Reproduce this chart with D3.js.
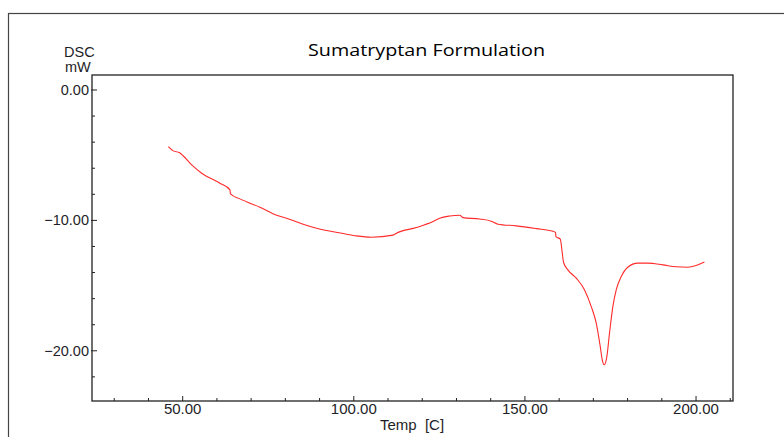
<!DOCTYPE html>
<html><head><meta charset="utf-8">
<script src="https://cdn.jsdelivr.net/npm/d3@7"></script>
<style>html,body{margin:0;padding:0;background:#fff;}svg{display:block;}</style>
</head><body>
<script>
const title = "Sumatryptan Formulation";
const yLabelTop = "DSC";
const yLabelUnit = "mW";
const xLabel = "Temp  [C]";
const xMajorTicks = [50, 100, 150, 200];
const xMinorTicks = [30, 40, 60, 70, 80, 90, 110, 120, 130, 140, 160, 170, 180, 190, 210];
const yMajorTicks = [0, -10, -20];
const yMinorTicks = [-2, -4, -6, -8, -12, -14, -16, -18, -22];
const temps = [45.8, 47.26, 49.0, 50.18, 52.63, 55.55, 60.89, 63.81, 63.95, 66.72, 72.56, 77.44, 80.36, 85.2, 89.11, 96.88, 100.79, 105.17, 111.47, 112.46, 118.3, 123.15, 125.1, 128.02, 130.94, 131.9, 136.78, 140.19, 142.12, 147.49, 153.33, 158.17, 158.96, 159.05, 160.33, 160.92, 161.3, 162.55, 165.0, 167.43, 169.38, 170.84, 172.01, 172.59, 173.18, 173.94, 174.72, 175.69, 176.68, 178.14, 180.07, 182.98, 185.9, 190.28, 194.19, 197.58, 200.03, 202.45];
const dsc = [-4.34, -4.67, -4.8, -5.06, -5.75, -6.38, -7.15, -7.66, -7.97, -8.35, -8.99, -9.6, -9.83, -10.29, -10.6, -11.01, -11.19, -11.29, -11.13, -10.98, -10.55, -10.09, -9.83, -9.66, -9.6, -9.79, -9.89, -10.06, -10.29, -10.42, -10.63, -10.83, -10.94, -11.24, -11.44, -12.51, -13.23, -13.79, -14.43, -15.33, -16.61, -17.88, -19.67, -20.69, -21.07, -20.44, -18.64, -16.61, -15.33, -14.31, -13.59, -13.28, -13.28, -13.41, -13.56, -13.59, -13.46, -13.2];

const W = 784, H = 437;
const L = 92, R = 733, T = 75, B = 401;
const svg = d3.select("body").append("svg").attr("width", W).attr("height", H);

svg.append("rect").attr("x", 8.5).attr("y", 13.5).attr("width", 900).attr("height", 600)
  .attr("fill", "none").attr("stroke", "#444").attr("stroke-width", 1.2);

const x = d3.scaleLinear().domain([23.5, 210.8]).range([L, R]);
const y = d3.scaleLinear().domain([1.15, -23.85]).range([T, B]);

svg.append("rect").attr("x", L).attr("y", T).attr("width", R - L).attr("height", B - T)
  .attr("fill", "none").attr("stroke", "#222").attr("stroke-width", 1.3);

const font = "'Liberation Sans', Arial, sans-serif";
const tc = "#1e1e28";

// x axis
const gx = svg.append("g");
gx.selectAll("line.maj").data(xMajorTicks).join("line")
  .attr("x1", d => x(d)).attr("x2", d => x(d)).attr("y1", B).attr("y2", B - 5)
  .attr("stroke", "#222").attr("stroke-width", 1);
gx.selectAll("line.min").data(xMinorTicks.filter(d => x(d) > L && x(d) < R)).join("line")
  .attr("x1", d => x(d)).attr("x2", d => x(d)).attr("y1", B).attr("y2", B - 3)
  .attr("stroke", "#222").attr("stroke-width", 1);
gx.selectAll("text").data(xMajorTicks).join("text")
  .attr("x", d => x(d)).attr("y", 414).attr("text-anchor", "middle")
  .attr("font-family", font).attr("font-size", 15).attr("fill", tc)
  .text(d => d3.format(".2f")(d));

// y axis
const gy = svg.append("g");
gy.selectAll("line.maj").data(yMajorTicks).join("line")
  .attr("x1", L - 1).attr("x2", L + 5).attr("y1", d => y(d)).attr("y2", d => y(d))
  .attr("stroke", "#222").attr("stroke-width", 1);
gy.selectAll("line.min").data(yMinorTicks.filter(d => y(d) > T && y(d) < B)).join("line")
  .attr("x1", L).attr("x2", L + 3).attr("y1", d => y(d)).attr("y2", d => y(d))
  .attr("stroke", "#222").attr("stroke-width", 1);
gy.selectAll("text").data(yMajorTicks).join("text")
  .attr("x", 89).attr("y", d => y(d) + 5).attr("text-anchor", "end")
  .attr("font-family", font).attr("font-size", 14.5).attr("fill", tc)
  .text(d => d3.format(".2f")(d));

svg.append("text").attr("x", 64).attr("y", 57).attr("font-family", font).attr("font-size", 14.5)
  .attr("fill", tc).text(yLabelTop);
svg.append("text").attr("x", 65).attr("y", 72).attr("font-family", font).attr("font-size", 14.5)
  .attr("fill", tc).text(yLabelUnit);
svg.append("text").attr("x", 412).attr("y", 430).attr("text-anchor", "middle")
  .attr("font-family", font).attr("font-size", 15).attr("fill", tc)
  .style("white-space", "pre").text(xLabel);

svg.append("text").attr("x", 426.5).attr("y", 56).attr("text-anchor", "middle")
  .attr("font-family", "'Open Sans', 'Noto Sans', sans-serif").attr("font-size", 17)
  .attr("textLength", 237).attr("lengthAdjust", "spacingAndGlyphs")
  .attr("fill", "#000").text(title);

const pts = temps.map((t, i) => [t, dsc[i]]);
const line = d3.line().x(d => x(d[0])).y(d => y(d[1])).curve(d3.curveMonotoneX);
svg.append("path").datum(pts).attr("d", line).attr("fill", "none")
  .attr("stroke", "#ff2a2a").attr("stroke-width", 1.1);
</script>
</body></html>
